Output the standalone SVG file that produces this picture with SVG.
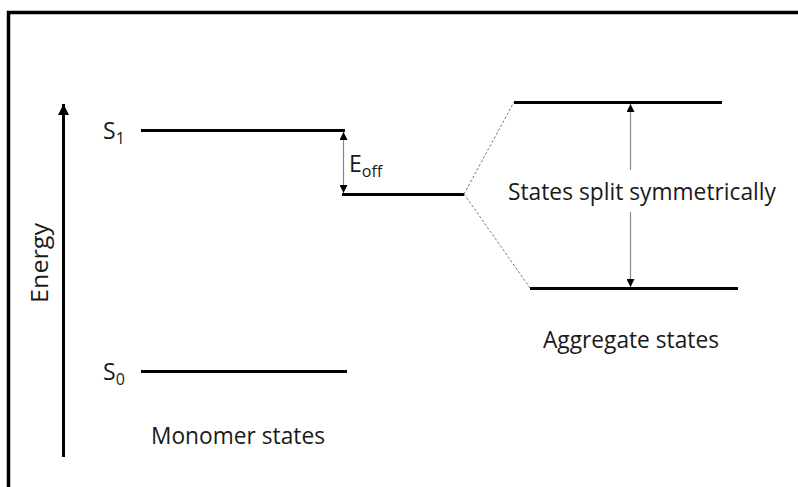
<svg xmlns="http://www.w3.org/2000/svg" width="798" height="487" viewBox="0 0 798 487">
<style>
  text { font-family: "Open Sans", "Liberation Sans", sans-serif; fill: #1a1a1a; }
  .lbl { font-size: 23px; }
  .sub { font-size: 16px; }
  .level { stroke: #000; stroke-width: 3; fill: none; }
  .dash { stroke: #777; stroke-width: 1; stroke-dasharray: 2.5 2; fill: none; }
  .gap { stroke: #888; stroke-width: 1.2; fill: none; }
</style>
<defs>
  <marker id="ah" viewBox="0 0 10 10" refX="10" refY="5" markerWidth="8" markerHeight="8" markerUnits="userSpaceOnUse" orient="auto">
    <path d="M0,0 L10,5 L0,10 Z" fill="#000"/>
  </marker>
  <marker id="ahBig" viewBox="0 0 10 10" refX="10" refY="5" markerWidth="11" markerHeight="11" markerUnits="userSpaceOnUse" orient="auto">
    <path d="M0,0 L10,5 L0,10 Z" fill="#000"/>
  </marker>
</defs>
<rect x="0" y="0" width="798" height="487" fill="#fff"/>
<rect x="8.5" y="12.5" width="800" height="490" fill="none" stroke="#000" stroke-width="3.5"/>

<g id="energy-axis">
  <line x1="63.5" y1="457" x2="63.5" y2="104" stroke="#000" stroke-width="3" marker-end="url(#ahBig)"/>
  <text class="lbl" transform="translate(48,303) rotate(-90)" textLength="80" lengthAdjust="spacingAndGlyphs">Energy</text>
</g>

<g id="monomer-S1">
  <line class="level" x1="141" y1="130.5" x2="345" y2="130.5"/>
  <text class="lbl" x="103" y="139">S<tspan class="sub" dy="5">1</tspan></text>
</g>

<g id="monomer-S0">
  <line class="level" x1="141" y1="371.5" x2="347" y2="371.5"/>
  <text class="lbl" x="103" y="380">S<tspan class="sub" dy="5">0</tspan></text>
</g>

<g id="monomer-label">
  <text class="lbl" x="151" y="444" textLength="174" lengthAdjust="spacingAndGlyphs">Monomer states</text>
</g>

<g id="shifted-level">
  <line class="level" x1="342" y1="194.5" x2="464" y2="194.5"/>
</g>

<g id="aggregate-upper">
  <line class="level" x1="514" y1="102.5" x2="722" y2="102.5"/>
</g>

<g id="aggregate-lower">
  <line class="level" x1="530" y1="288.5" x2="738" y2="288.5"/>
</g>

<g id="aggregate-label">
  <text class="lbl" x="543" y="348" textLength="176" lengthAdjust="spacingAndGlyphs">Aggregate states</text>
</g>

<g id="split-label">
  <text class="lbl" x="508" y="200" textLength="268" lengthAdjust="spacingAndGlyphs">States split symmetrically</text>
</g>

<g id="eoff-label">
  <text class="lbl" x="349" y="172">E<tspan class="sub" dy="5">off</tspan></text>
</g>

<g id="connectors">
  <line class="gap" x1="343.5" y1="160" x2="343.5" y2="132" marker-end="url(#ah)"/>
  <line class="gap" x1="343.5" y1="160" x2="343.5" y2="193" marker-end="url(#ah)"/>
  <line class="dash" x1="464" y1="194" x2="514" y2="102"/>
  <line class="dash" x1="464" y1="194" x2="530" y2="288"/>
  <line class="gap" x1="630.5" y1="170" x2="630.5" y2="104" marker-end="url(#ah)"/>
  <line class="gap" x1="630.5" y1="212" x2="630.5" y2="287" marker-end="url(#ah)"/>
</g>
</svg>
